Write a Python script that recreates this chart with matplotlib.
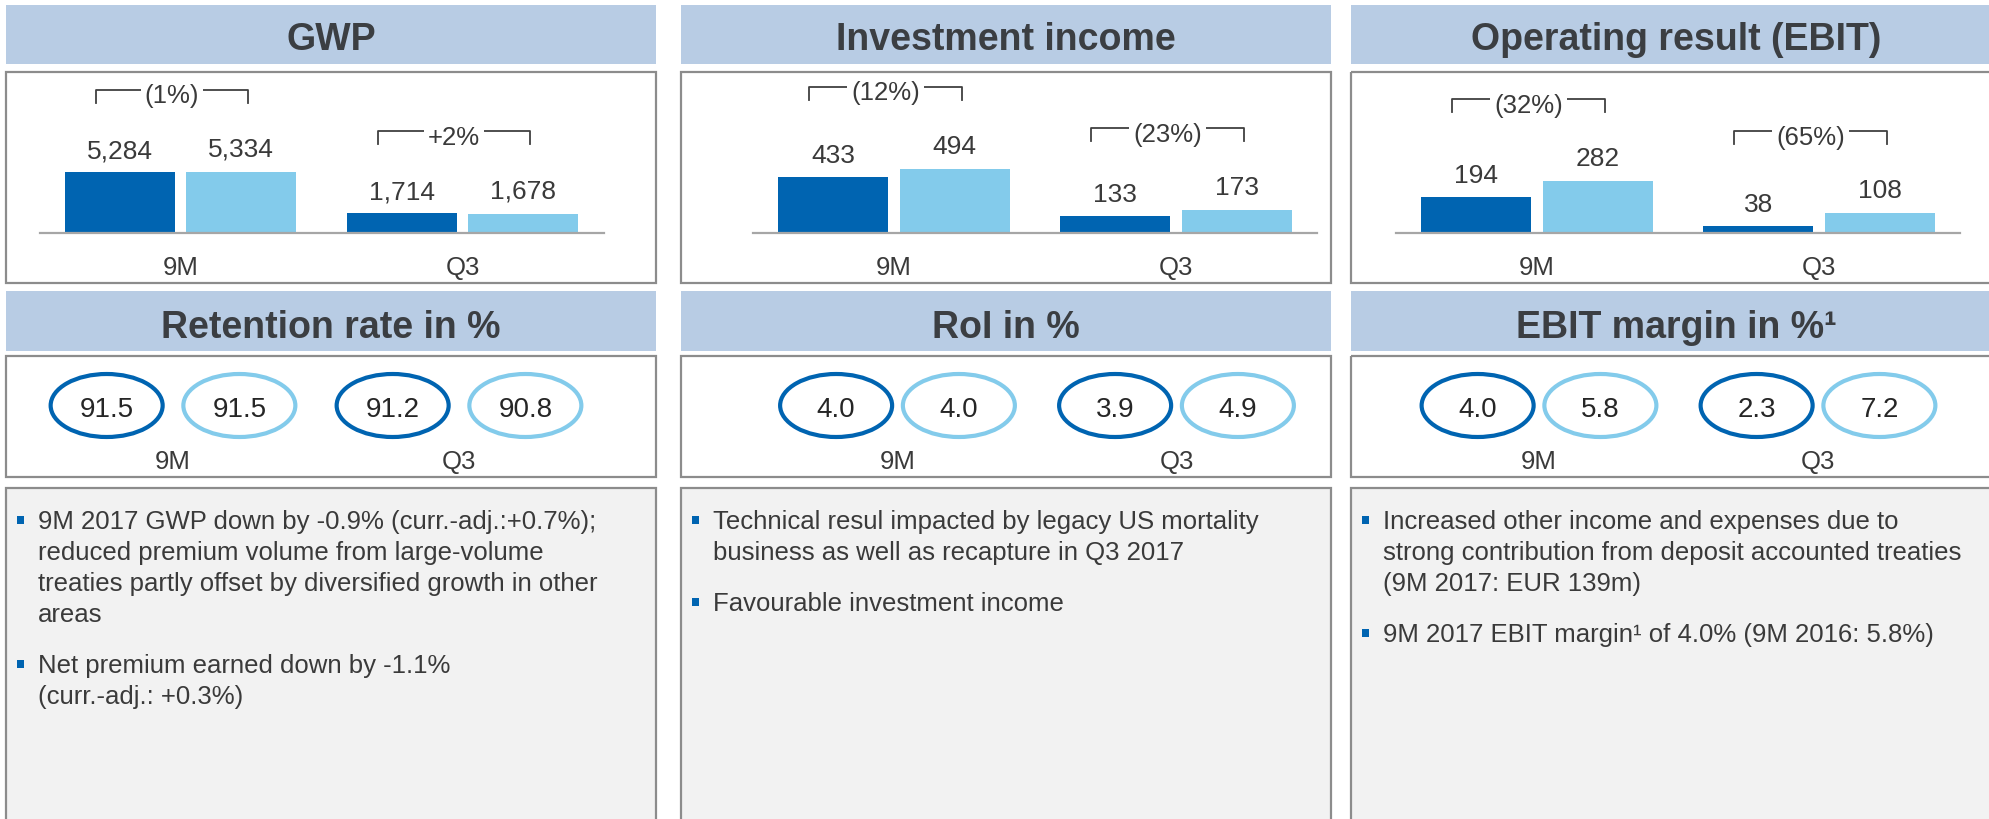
import numpy as np
import matplotlib.pyplot as plt
from matplotlib.patches import Rectangle, Ellipse

plt.rcParams['font.family'] = ['Liberation Sans', 'DejaVu Sans']

# key figures 9M / Q3, 2017 (dark) vs 2016 (light)
periods = ['9M', 'Q3']

gwp_2017 = [5284, 1714]
gwp_2016 = [5334, 1678]
gwp_change = ['(1%)', '+2%']

investment_2017 = [433, 133]
investment_2016 = [494, 173]
investment_change = ['(12%)', '(23%)']

ebit_2017 = [194, 38]
ebit_2016 = [282, 108]
ebit_change = ['(32%)', '(65%)']

retention_2017 = [91.5, 91.2]
retention_2016 = [91.5, 90.8]
roi_2017 = [4.0, 3.9]
roi_2016 = [4.0, 4.9]
margin_2017 = [4.0, 2.3]
margin_2016 = [5.8, 7.2]

bar_titles = ['GWP', 'Investment income', 'Operating result (EBIT)']
ratio_titles = ['Retention rate in %', 'RoI in %', 'EBIT margin in %¹']

comments = [
    [['9M 2017 GWP down by -0.9% (curr.-adj.:+0.7%);',
      'reduced premium volume from large-volume',
      'treaties partly offset by diversified growth in other',
      'areas'],
     ['Net premium earned down by -1.1%',
      '(curr.-adj.: +0.3%)']],
    [['Technical resul impacted by legacy US mortality',
      'business as well as recapture in Q3 2017'],
     ['Favourable investment income']],
    [['Increased other income and expenses due to',
      'strong contribution from deposit accounted treaties',
      '(9M 2017: EUR 139m)'],
     ['9M 2017 EBIT margin¹ of 4.0% (9M 2016: 5.8%)']],
]

DARK = '#0064b1'
LIGHT = '#83cbeb'
HEADER = '#b8cce4'
BORDER = '#8c8c8c'
TEXT = '#3a3a3a'
TITLE = '#3b3e42'

W, H = 1990, 819
fig = plt.figure(figsize=(W / 100, H / 100), dpi=100)

# background layer in pixel units: header bands, frames, comment boxes
bg = fig.add_axes([0, 0, 1, 1])
bg.set_xlim(0, W)
bg.set_ylim(H, 0)
bg.axis('off')


def px_axes(left, top, width, height):
    ax = fig.add_axes([left / W, 1 - (top + height) / H, width / W, height / H])
    ax.patch.set_alpha(0)
    return ax


panel_x = [6, 681, 1351]
panel_w = 650

for x0, t1, t2 in zip(panel_x, bar_titles, ratio_titles):
    bg.add_patch(Rectangle((x0, 5), panel_w, 59, color=HEADER, lw=0))
    bg.text(x0 + panel_w / 2, 50, t1, ha='center', va='baseline',
            fontsize=27, fontweight='bold', color=TITLE)
    bg.add_patch(Rectangle((x0, 72), panel_w, 211, fill=False, ec=BORDER, lw=1.6))

    bg.add_patch(Rectangle((x0, 291), panel_w, 60, color=HEADER, lw=0))
    bg.text(x0 + panel_w / 2, 338, t2, ha='center', va='baseline',
            fontsize=27, fontweight='bold', color=TITLE)
    bg.add_patch(Rectangle((x0, 356), panel_w, 121, fill=False, ec=BORDER, lw=1.6))

    bg.add_patch(Rectangle((x0, 488), panel_w, 400, fc='#f2f2f2', ec=BORDER, lw=1.6))

# comment bullets
for x0, paras in zip(panel_x, comments):
    y = 522
    for para in paras:
        bg.add_patch(Rectangle((x0 + 11, y - 6), 7, 8, color=DARK, lw=0))
        for line in para:
            bg.text(x0 + 32, y + 7, line, fontsize=18.5, color=TEXT, va='baseline')
            y += 31
        y += 20

# bar charts
x = np.arange(len(periods))
bar_w = 0.39
shift = 0.215
bar_left = [39.5, 753, 1396]
bar_sets = [
    (gwp_2017, gwp_2016, gwp_change, 13900),
    (investment_2017, investment_2016, investment_change, 1230),
    (ebit_2017, ebit_2016, ebit_change, 874),
]

for left, (cur, prev, change, ytop) in zip(bar_left, bar_sets):
    ax = px_axes(left, 73, 564, 160)
    ax.bar(x - shift, cur, bar_w, color=DARK)
    ax.bar(x + shift, prev, bar_w, color=LIGHT)
    ax.set_xlim(-0.5, 1.5)
    ax.set_ylim(0, ytop)
    for s in ['top', 'left', 'right']:
        ax.spines[s].set_visible(False)
    ax.spines['bottom'].set_color('#a6a6a6')
    ax.spines['bottom'].set_linewidth(1.6)
    ax.set_yticks([])
    ax.set_xticks(x, periods)
    ax.tick_params(axis='x', length=0, pad=16.5, labelsize=18.5, labelcolor=TEXT)

    dpp = ytop / 160  # data units per pixel
    for xi, c, p, ch in zip(x, cur, prev, change):
        ax.text(xi - shift, c + 14 * dpp, f'{c:,}', ha='center', va='baseline',
                fontsize=19, color=TEXT)
        ax.text(xi + shift, p + 15 * dpp, f'{p:,}', ha='center', va='baseline',
                fontsize=19, color=TEXT)
        # change bracket above the pair
        yb = max(c, p) + 82 * dpp
        bl, br = xi - 0.30, xi + 0.24
        ax.plot([bl, bl, br, br], [yb - 13 * dpp, yb, yb, yb - 13 * dpp],
                color='#404040', lw=1.3, clip_on=False)
        ax.text((bl + br) / 2, yb - 13.5 * dpp, ch, ha='center', va='baseline',
                fontsize=18.5, color=TEXT,
                bbox=dict(fc='white', ec='none', pad=3))

# ratio ellipses
ell_left = [30, 758, 1399.5]
ell_width = [572, 558, 558]
ell_shift = [0.232, 0.22, 0.22]
ratio_sets = [
    (retention_2017, retention_2016),
    (roi_2017, roi_2016),
    (margin_2017, margin_2016),
]

for left, width, dx0, (cur, prev) in zip(ell_left, ell_width, ell_shift, ratio_sets):
    ax = px_axes(left, 356, width, 121)
    ax.set_xlim(-0.5, 1.5)
    ax.set_ylim(477, 356)
    ax.axis('off')
    ew = 112 / (width / 2)
    for xi, c, p, period in zip(x, cur, prev, periods):
        for dx, v, col in ((-dx0, c, DARK), (dx0, p, LIGHT)):
            ax.add_patch(Ellipse((xi + dx, 405.5), ew, 63, fill=False, ec=col, lw=3))
            ax.text(xi + dx, 417, f'{v:.1f}', ha='center', va='baseline',
                    fontsize=20, color='#262626')
        ax.text(xi, 469, period, ha='center', va='baseline', fontsize=18.5, color=TEXT)

fig.savefig('out.png', dpi=100, facecolor='white')
